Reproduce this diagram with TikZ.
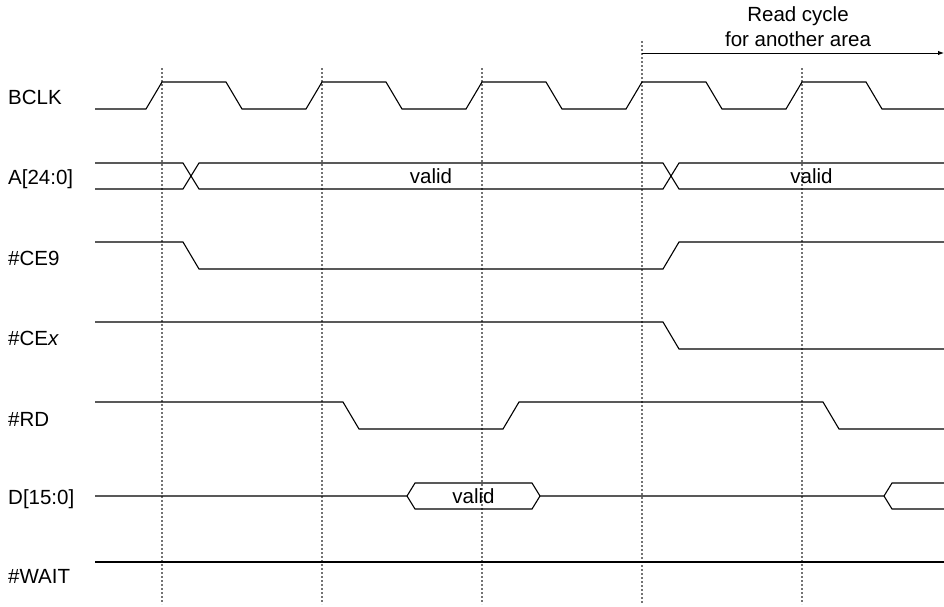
\documentclass[tikz,border=0pt]{standalone}
\usepackage{fontspec}
\setmainfont{Liberation Sans}
\usetikzlibrary{arrows.meta}
\begin{document}
\begin{tikzpicture}[x=1pt,y=-1pt,
  sig/.style={line width=1.1pt, line join=miter},
  gridline/.style={draw=black!55, line width=1.2pt, dash pattern=on 2pt off 2pt},
  lbl/.style={anchor=base west, inner sep=0pt, font=\fontsize{20.5}{24}\selectfont},
  txt/.style={anchor=base, inner sep=0pt, font=\fontsize{20.5}{24}\selectfont}]
\useasboundingbox (0,0) rectangle (944,606);
% dotted reference lines
\foreach \x in {162,322,482,802} \draw[gridline] (\x,68) -- (\x,604);
\draw[gridline] (642,41) -- (642,604);
% labels
\node[lbl] (lclk) at (8,104) {BCLK};
\node[lbl] (laddr) at (8,184) {A[24:0]};
\node[lbl] (lce9) at (8,265) {\#CE9};
\node[lbl] (lcex) at (8,345) {\#CE\textit{x}};
\node[lbl] (lrd) at (8,426) {\#RD};
\node[lbl] (ldata) at (8,504) {D[15:0]};
\node[lbl] (lwait) at (8,583) {\#WAIT};
% BCLK
\draw[sig] (95,109) -- (146,109)
  -- (162,82) -- (226,82) -- (242,109) -- (306,109)
  -- (322,82) -- (386,82) -- (402,109) -- (466,109)
  -- (482,82) -- (546,82) -- (562,109) -- (626,109)
  -- (642,82) -- (706,82) -- (722,109) -- (786,109)
  -- (802,82) -- (866,82) -- (882,109) -- (944,109);
% A[24:0]
\draw[sig] (95,163) -- (183,163) -- (199,189) -- (663,189) -- (679,163) -- (944,163);
\draw[sig] (95,189) -- (183,189) -- (199,163) -- (663,163) -- (679,189) -- (944,189);
\node[txt] (va1) at (431,183.5) {valid};
\node[txt] (va2) at (811.5,183.5) {valid};
% #CE9
\draw[sig] (95,242) -- (183,242) -- (199,269) -- (663,269) -- (679,242) -- (944,242);
% #CEx
\draw[sig] (95,322) -- (663,322) -- (679,349) -- (944,349);
% #RD
\draw[sig] (95,402) -- (343,402) -- (359,429) -- (503,429) -- (519,402) -- (823,402) -- (839,429) -- (944,429);
% D[15:0]
\draw[sig] (95,496) -- (407,496) -- (415,483) -- (532,483) -- (540,496) -- (884,496) -- (892,483) -- (944,483);
\draw[sig] (407,496) -- (415,509) -- (532,509) -- (540,496);
\draw[sig] (884,496) -- (892,509) -- (944,509);
\node[txt] (vd) at (473.5,503.5) {valid};
% #WAIT
\draw[sig] (95,562) -- (944,562);
% read cycle arrow
\coordinate (rs) at (642,53);
\coordinate (re) at (944,53);
\draw[line width=1pt, -{Latex[length=6pt,width=4.5pt]}] (rs) -- (re);
\node[txt] (rc1) at (798,21.7) {Read cycle};
\node[txt] (rc2) at (798,46.7) {for another area};
\end{tikzpicture}
\end{document}
